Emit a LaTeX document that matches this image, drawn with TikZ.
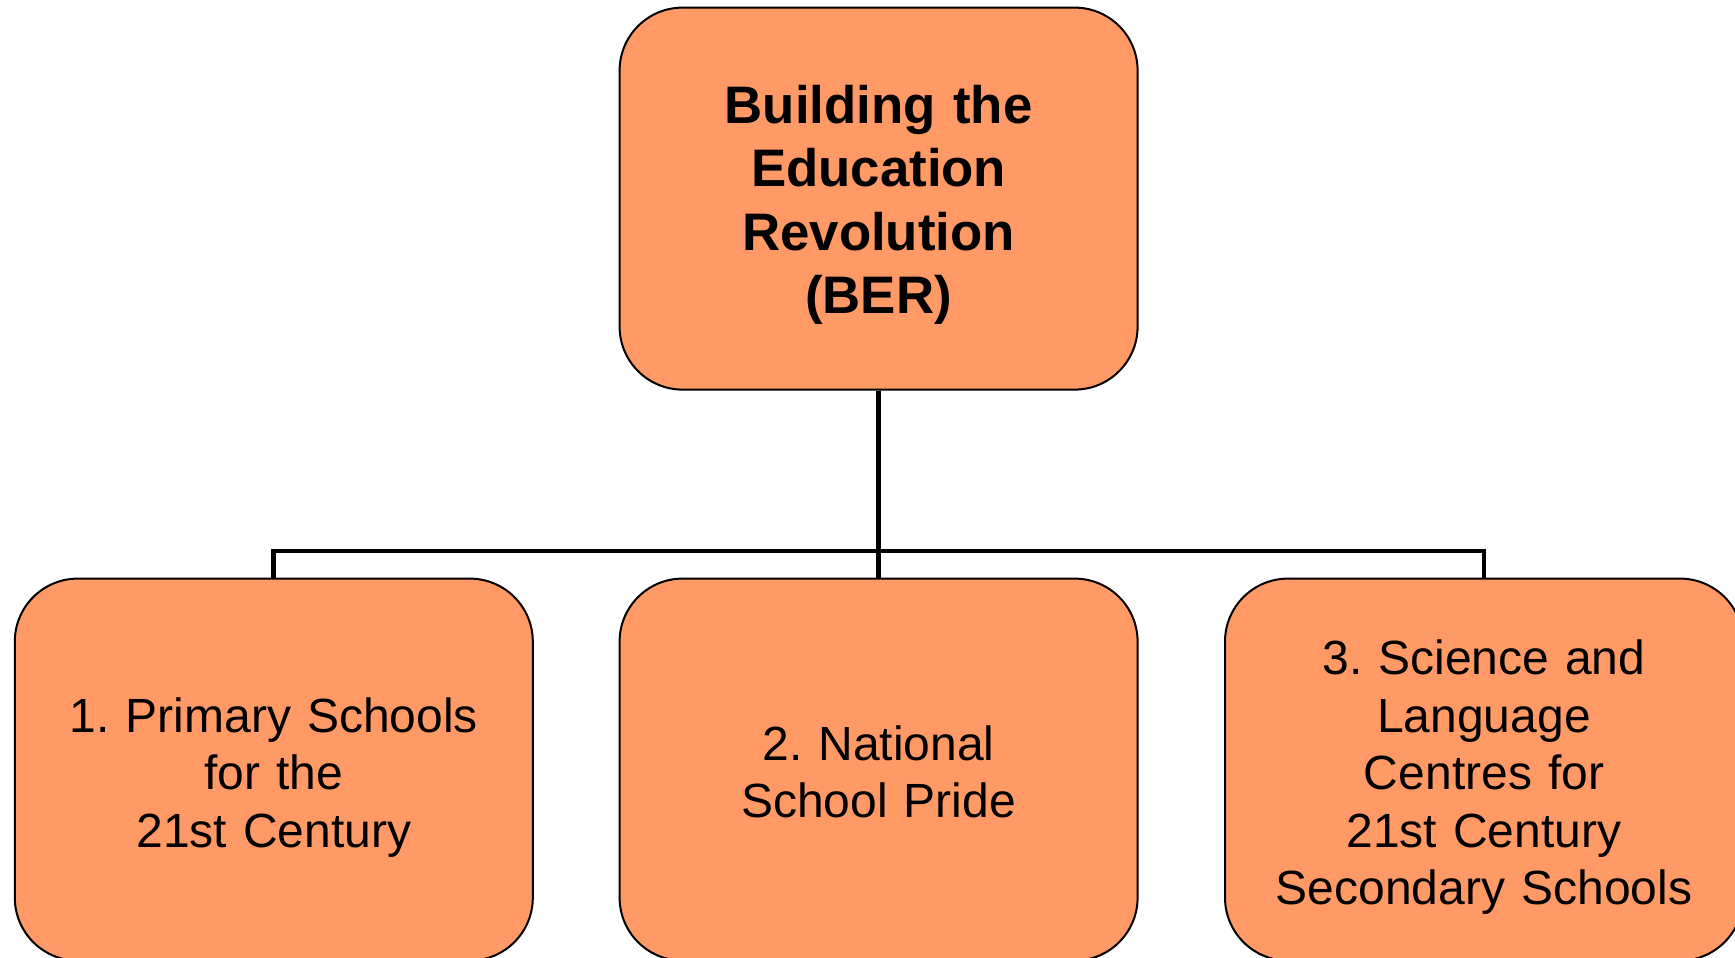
\documentclass[tikz,border=0pt]{standalone}
\usepackage{fontspec}
\setmainfont{Liberation Sans}
\frenchspacing
\definecolor{boxfill}{RGB}{255,153,102}
\newcommand{\topstrut}[1]{\rule{0pt}{#1}}
\begin{document}
\begin{tikzpicture}[x=0.5pt,y=-0.5pt,
  box/.style={draw=black, line width=1pt, fill=boxfill, rounded corners=31.5pt,
    minimum width=259pt, minimum height=191pt, align=center, inner sep=0pt,
    text width=250pt, font=\fontsize{24}{28.8}\selectfont},
  topbox/.style={box, font=\fontsize{26.4}{31.7}\selectfont\bfseries},
  conn/.style={draw=black, line width=2.4pt}]
\useasboundingbox (0,0) rectangle (1735,958);
\clip (0,0) rectangle (1735,958);
\node[topbox] (top) at (878.6,198.6) {\topstrut{25.5pt}Building the\\Education\\Revolution\\(BER)};
\node[box] (b1) at (273.8,769.6) {\topstrut{25pt}1. Primary Schools\\for the\\21st Century};
\node[box] (b2) at (878.6,769.6) {\topstrut{19.5pt}2. National\\School Pride};
\node[box] (b3) at (1484,769.6) {\topstrut{25pt}3. Science and\\Language\\Centres for\\21st Century\\Secondary Schools};
\coordinate (bus) at (878.6,551);
\draw[conn] (top.south) -- (bus);
\draw[conn] (b1.north) |- (bus) -| (b3.north);
\draw[conn] (bus) -- (b2.north);
\end{tikzpicture}
\end{document}
